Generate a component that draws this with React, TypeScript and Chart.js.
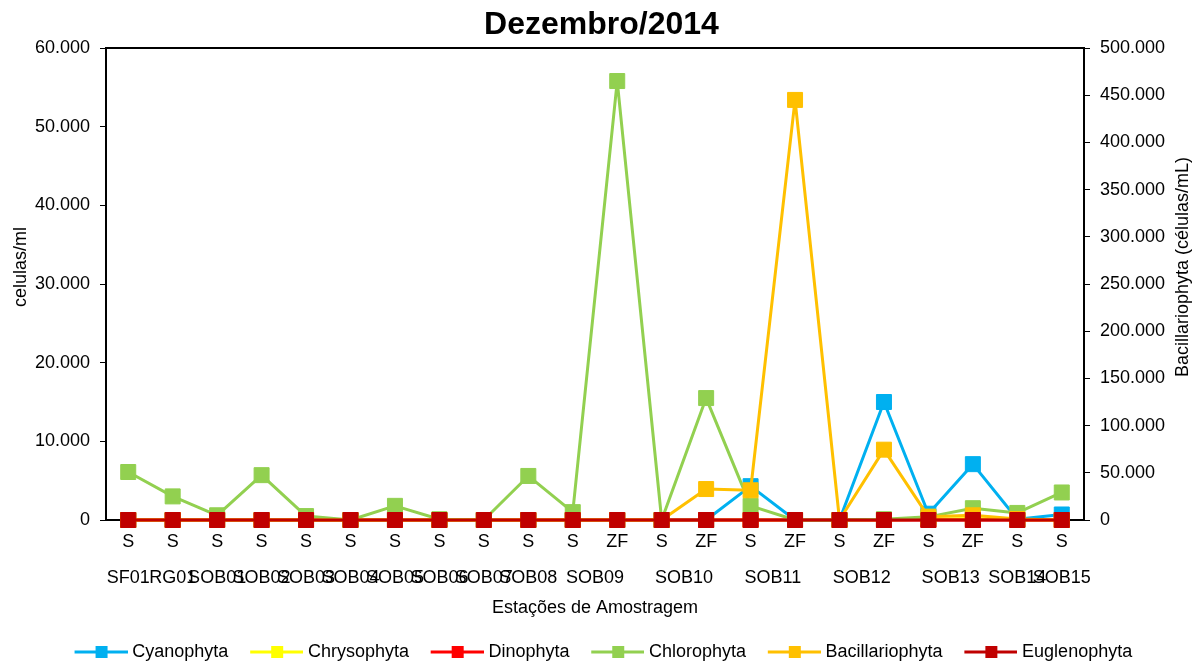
import React, { useEffect, useRef } from 'react';
import { Chart, registerables } from 'chart.js';

Chart.register(...registerables);

const chartTitle = 'Dezembro/2014';
const leftTitle = 'celulas/ml';
const rightTitle = 'Bacillariophyta (células/mL)';
const xTitle = 'Estações de Amostragem';

const depthLabels = ['S', 'S', 'S', 'S', 'S', 'S', 'S', 'S', 'S', 'S', 'S', 'ZF', 'S', 'ZF', 'S', 'ZF', 'S', 'ZF', 'S', 'ZF', 'S', 'S'];
const stationLabels = ['SF01', 'RG01', 'SOB01', 'SOB02', 'SOB03', 'SOB04', 'SOB05', 'SOB06', 'SOB07', 'SOB08', 'SOB09', 'SOB09', 'SOB10', 'SOB10', 'SOB11', 'SOB11', 'SOB12', 'SOB12', 'SOB13', 'SOB13', 'SOB14', 'SOB15'];

const cyanophyta = [0, 0, 0, 0, 0, 0, 0, 0, 0, 0, 0, 0, 0, 0, 4300, 0, 0, 15000, 800, 7100, 100, 700];
const chrysophyta = [0, 0, 0, 0, 0, 0, 0, 0, 0, 0, 0, 0, 0, 0, 0, 0, 0, 0, 100, 200, 0, 0];
const dinophyta = [0, 0, 0, 0, 0, 0, 0, 0, 0, 0, 0, 0, 0, 0, 0, 0, 0, 0, 0, 0, 0, 0];
const chlorophyta = [6100, 3000, 600, 5700, 500, 0, 1800, 100, 0, 5600, 1000, 55800, 0, 15500, 1800, 0, 0, 100, 400, 1500, 900, 3500];
const bacillariophyta = [0, 0, 0, 0, 0, 0, 0, 0, 0, 0, 0, 0, 0, 32800, 31500, 445000, 0, 74500, 3500, 5000, 1000, 0];
const euglenophyta = [0, 0, 0, 0, 0, 0, 0, 0, 0, 0, 0, 0, 0, 0, 0, 0, 0, 0, 0, 0, 0, 0];

const seriesNames = ['Cyanophyta', 'Chrysophyta', 'Dinophyta', 'Chlorophyta', 'Bacillariophyta', 'Euglenophyta'];
const seriesValues = [cyanophyta, chrysophyta, dinophyta, chlorophyta, bacillariophyta, euglenophyta];
const seriesColors = ['#00B0F0', '#FFFF00', '#FF0000', '#92D050', '#FFC000', '#C00000'];
const seriesAxis = ['y', 'y', 'y', 'y', 'y1', 'y'];

const FONT = "'Liberation Sans', Arial, Helvetica, sans-serif";

const fmt = (v: number) => Math.round(v).toString().replace(/\B(?=(\d{3})+(?!\d))/g, '.');

const LEGEND_PW = 52.5;
const LEGEND_PAD = 18;

function makeIcon(color: string): HTMLCanvasElement {
  const w = Math.round(LEGEND_PW + 8);
  const c = document.createElement('canvas');
  c.width = w;
  c.height = 14;
  const g = c.getContext('2d')!;
  const x0 = w - 53;
  g.strokeStyle = color;
  g.lineWidth = 3;
  g.beginPath();
  g.moveTo(x0, 7);
  g.lineTo(w, 7);
  g.stroke();
  g.fillStyle = color;
  const mid = (x0 + w) / 2;
  g.fillRect(Math.round(mid - 6), 1, 12, 12);
  return c;
}

const axisTitlesPlugin = {
  id: 'axisTitles',
  afterDraw(chart: any) {
    const { ctx, chartArea } = chart;
    const midY = (chartArea.top + chartArea.bottom) / 2 - 17;
    ctx.save();
    ctx.fillStyle = '#000';
    ctx.font = `18px ${FONT}`;
    ctx.textAlign = 'center';
    ctx.textBaseline = 'middle';
    ctx.translate(21, midY);
    ctx.rotate(-Math.PI / 2);
    ctx.fillText(leftTitle, 0, 0);
    ctx.restore();
    ctx.save();
    ctx.fillStyle = '#000';
    ctx.font = `18px ${FONT}`;
    ctx.textAlign = 'center';
    ctx.textBaseline = 'middle';
    ctx.translate(1183, midY);
    ctx.rotate(-Math.PI / 2);
    ctx.fillText(rightTitle, 0, 0);
    ctx.restore();
  },
};

export default function App() {
  const ref = useRef<HTMLCanvasElement | null>(null);

  useEffect(() => {
    if (!ref.current) return;
    Chart.defaults.font.family = FONT;
    Chart.defaults.color = '#000';

    const groups: { name: string; start: number; end: number }[] = [];
    stationLabels.forEach((s, i) => {
      const last = groups[groups.length - 1];
      if (last && last.name === s) last.end = i;
      else groups.push({ name: s, start: i, end: i });
    });
    const groupPos = groups.map((g) => (g.start + g.end) / 2);
    const groupNames = groups.map((g) => g.name);

    const icons = seriesColors.map(makeIcon);

    const datasets = seriesNames.map((name, i) => ({
      label: name,
      data: seriesValues[i],
      yAxisID: seriesAxis[i],
      xAxisID: 'x',
      borderColor: seriesColors[i],
      backgroundColor: seriesColors[i],
      pointBackgroundColor: seriesColors[i],
      pointBorderColor: seriesColors[i],
      borderWidth: 3,
      borderJoinStyle: 'round',
      pointStyle: 'rect',
      pointRadius: 10.6,
      pointBorderWidth: 1,
      tension: 0,
      clip: false,
      order: seriesNames.length - i,
    }));

    const chart = new Chart(ref.current, {
      type: 'line',
      data: { labels: depthLabels, datasets },
      plugins: [axisTitlesPlugin],
      options: {
        animation: false,
        responsive: false,
        layout: { padding: 0 },
        plugins: {
          tooltip: { enabled: false },
          title: {
            display: true,
            text: chartTitle,
            font: { size: 32, weight: 'bold', family: FONT },
            color: '#000',
            padding: { top: 6, bottom: 3.6 },
          },
          legend: {
            position: 'bottom',
            align: 'center',
            maxHeight: 41,
            labels: {
              usePointStyle: true,
              pointStyleWidth: LEGEND_PW,
              padding: LEGEND_PAD,
              color: '#000',
              font: { size: 18, family: FONT },
              generateLabels: () =>
                seriesNames.map((n, i) => ({
                  text: n,
                  pointStyle: icons[i],
                  fillStyle: seriesColors[i],
                  strokeStyle: seriesColors[i],
                  lineWidth: 0,
                  hidden: false,
                  datasetIndex: i,
                  fontColor: '#000',
                })),
            },
          },
        },
        scales: {
          x: {
            type: 'category',
            position: 'bottom',
            offset: true,
            weight: 0,
            grid: { display: false, drawTicks: false },
            border: { display: true, color: '#000', width: 2 },
            ticks: { font: { size: 18 }, color: '#000', padding: 11, maxRotation: 0, minRotation: 0, autoSkip: false },
            afterFit: (s: any) => { s.height = 40; },
          },
          xg: {
            type: 'linear',
            position: 'bottom',
            display: true,
            weight: 1,
            min: -0.5,
            max: 21.5,
            offset: false,
            grid: { display: false, drawTicks: false },
            border: { display: false },
            afterBuildTicks: (s: any) => { s.ticks = groupPos.map((v) => ({ value: v })); },
            ticks: {
              font: { size: 18 },
              color: '#000',
              padding: 7,
              maxRotation: 0,
              minRotation: 0,
              autoSkip: false,
              callback: (_v: any, idx: number) => groupNames[idx],
            },
            title: { display: true, text: xTitle, font: { size: 18 }, color: '#000', padding: { top: 0, bottom: 6.2 } },
            afterFit: (s: any) => { s.height = 65; },
          },
          xTop: {
            type: 'category',
            position: 'top',
            display: true,
            grid: { display: false, drawTicks: false },
            border: { display: true, color: '#000', width: 2 },
            ticks: { display: false },
          },
          y: {
            type: 'linear',
            position: 'left',
            min: 0,
            max: 60000,
            grid: { display: true, drawOnChartArea: false, drawTicks: true, tickLength: 6, color: '#000', lineWidth: 1 },
            border: { display: true, color: '#000', width: 2 },
            ticks: { stepSize: 10000, font: { size: 18 }, color: '#000', padding: 10, callback: (v: any) => fmt(Number(v)) },
            afterFit: (s: any) => { s.width = 106; },
          },
          y1: {
            type: 'linear',
            position: 'right',
            min: 0,
            max: 500000,
            grid: { display: true, drawOnChartArea: false, drawTicks: true, tickLength: 6, color: '#000', lineWidth: 1 },
            border: { display: true, color: '#000', width: 2 },
            ticks: { stepSize: 50000, font: { size: 18 }, color: '#000', padding: 10, callback: (v: any) => fmt(Number(v)) },
            afterFit: (s: any) => { s.width = 119; },
          },
        },
      } as any,
    });
    return () => chart.destroy();
  }, []);

  return (
    <div style={{ position: 'absolute', left: 0, top: 0, width: 1203, height: 666, background: '#fff' }}>
      <canvas ref={ref} width={1203} height={666} style={{ display: 'block' }} />
    </div>
  );
}
